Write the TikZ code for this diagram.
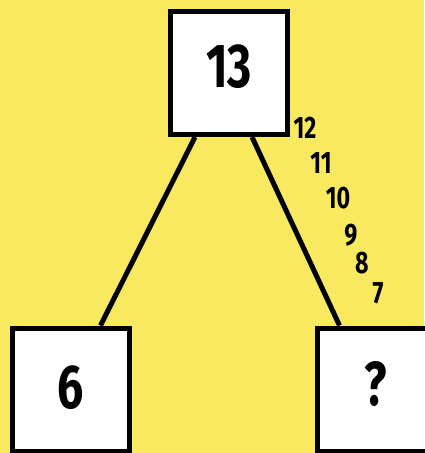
\documentclass[tikz,border=0pt]{standalone}
\usepackage{fontspec}
\newfontfamily\numfont[FakeStretch=0.75]{Fira Sans}
\definecolor{bgyellow}{HTML}{F8E960}
\begin{document}
\begin{tikzpicture}[x=1pt,y=-1pt,
  box/.style={rectangle,draw=black,line width=5pt,fill=white,minimum width=117pt,minimum height=123pt,inner sep=0pt,font=\numfont\bfseries\fontsize{62}{62}\selectfont},
  step num/.style={font=\numfont\bfseries\fontsize{31}{31}\selectfont,inner sep=0pt}]

\fill[bgyellow] (0,0) rectangle (424,453);
\useasboundingbox (0,0) rectangle (424,453);

\node[box,text depth=14pt] (top) at (229,73) {13};
\node[box,text depth=4pt] (left) at (70.5,389.5) {6};
\node[box,text depth=12pt] (right) at (375.5,389.5) {?};

\draw[line width=5pt] ([xshift=-34pt]top.south) -- ([xshift=30pt]left.north);
\draw[line width=5pt] ([xshift=23pt]top.south) -- ([xshift=-36pt]right.north);

% counting down along the right branch
\foreach \n/\px/\py in {12/305/128,11/321/163,10/338/198,9/351/235,8/362/263,7/378/293}{
  \node[step num] (c\n) at (\px,\py) {\n};
}

\end{tikzpicture}
\end{document}
